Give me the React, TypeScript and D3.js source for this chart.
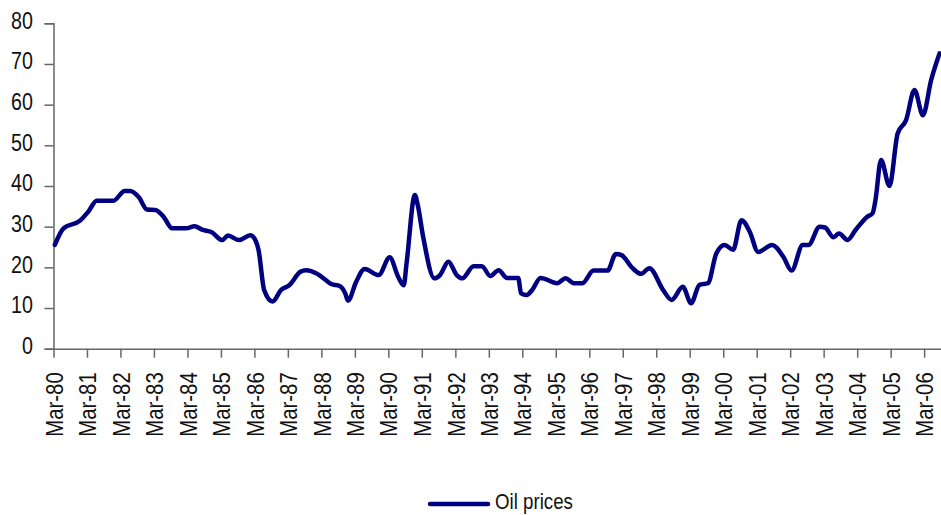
import React, { useRef, useEffect } from "react"
import * as d3 from "d3"

// monthly readings (month of observation) and price, $/bbl
const months = [
  "1980-03", "1980-06", "1980-12", "1981-03", "1981-06", "1981-12", "1982-04", "1982-06",
  "1982-09", "1982-12", "1983-03", "1983-06", "1983-09", "1984-02", "1984-05", "1984-08",
  "1984-11", "1985-03", "1985-05", "1985-09", "1986-01", "1986-03", "1986-04", "1986-06",
  "1986-09", "1986-12", "1987-03", "1987-07", "1987-09", "1988-01", "1988-04", "1988-06",
  "1988-09", "1988-11", "1988-12", "1989-03", "1989-06", "1989-11", "1990-03", "1990-06",
  "1990-08", "1990-09", "1990-12", "1991-01", "1991-03", "1991-07", "1991-09", "1991-12",
  "1992-03", "1992-05", "1992-09", "1992-12", "1993-03", "1993-06", "1993-09", "1994-01",
  "1994-02", "1994-04", "1994-06", "1994-09", "1995-03", "1995-06", "1995-09", "1995-12",
  "1996-04", "1996-09", "1996-12", "1997-02", "1997-06", "1997-09", "1997-12", "1998-05",
  "1998-08", "1998-12", "1999-03", "1999-06", "1999-09", "1999-12", "2000-03", "2000-06",
  "2000-09", "2000-12", "2001-03", "2001-08", "2001-12", "2002-03", "2002-07", "2002-09",
  "2003-01", "2003-03", "2003-06", "2003-08", "2003-11", "2004-02", "2004-06", "2004-08",
  "2004-09", "2004-11", "2005-02", "2005-05", "2005-08", "2005-11", "2006-02", "2006-05",
  "2006-08"
]

const prices = [
  25.5, 29.5, 31.5, 33.7, 36.4, 36.4, 38.8, 38.8,
  37.3, 34.2, 34.1, 32.4, 29.6, 29.6, 30.1, 29.2,
  28.7, 26.7, 27.8, 26.7, 27.9, 26.5, 24.2, 14.4,
  11.6, 14.4, 15.6, 18.9, 19.3, 18.4, 16.9, 15.9,
  15.4, 13.6, 11.8, 16.5, 19.6, 18.1, 22.5, 17.7,
  15.6, 21.0, 37.8, 35.3, 27.5, 17.3, 18.1, 21.4,
  18.1, 17.3, 20.3, 20.3, 17.9, 19.3, 17.4, 17.4,
  13.6, 13.2, 14.4, 17.4, 16.1, 17.3, 16.1, 16.1,
  19.2, 19.2, 23.3, 23.0, 19.8, 18.4, 19.8, 14.4,
  12.0, 15.2, 11.2, 15.7, 16.1, 23.4, 25.5, 24.3,
  31.6, 28.7, 23.8, 25.5, 22.6, 19.2, 25.5, 25.5,
  30.0, 29.8, 27.4, 28.3, 26.7, 29.3, 32.4, 33.3,
  36.5, 46.4, 40.0, 52.9, 56.2, 63.6, 57.4, 66.0,
  72.6
]

const yTicks = [0, 10, 20, 30, 40, 50, 60, 70, 80]
const seriesName = "Oil prices"

const W = 941, H = 515
const FONT = "'Liberation Sans', Arial, sans-serif"
const SQUEEZE = 0.82 // condensed look of the original face

const App = () => {
  const element = useRef<SVGSVGElement>(null)

  useEffect(() => {
    const svg = d3.select(element.current)
    svg.selectAll("*").remove()

    const parse = d3.timeParse("%Y-%m")
    const data = months.map((m, i) => {
      const d = parse(m) as Date
      return { date: new Date(d.getFullYear(), d.getMonth(), 16), value: prices[i] }
    })

    const x = d3.scaleTime()
      .domain([new Date(1980, 2, 1), new Date(2006, 8, 1)])
      .range([53.5, 941])

    const y = d3.scaleLinear()
      .domain([0, 80])
      .range([348.7, 23.3])

    const axisColor = "#666"

    // y axis
    const gy = svg.append("g").attr("transform", "translate(53.5,0)")
    gy.call(d3.axisLeft(y).tickValues(yTicks).tickSize(9).tickPadding(12))
    gy.select(".domain").attr("stroke", axisColor).attr("stroke-width", 1.5)
    gy.selectAll(".tick line").attr("stroke", axisColor).attr("stroke-width", 1.5)
    gy.selectAll(".tick text")
      .attr("font-family", FONT)
      .attr("font-size", 24)
      .attr("fill", "#111")
      .attr("x", 0)
      .attr("dy", "0.2em")
      .attr("transform", "translate(-20.5,0) scale(" + SQUEEZE + ",1)")

    // x axis, a tick every March
    const marchTicks = d3.timeMonth.range(new Date(1980, 2, 1), new Date(2006, 8, 1))
      .filter(d => d.getMonth() === 2)

    const gx = svg.append("g").attr("transform", "translate(0," + y(0) + ")")
    gx.call(
      d3.axisBottom(x)
        .tickValues(marchTicks)
        .tickSize(9)
        .tickSizeOuter(0)
        .tickFormat(d3.timeFormat("%b-%y") as any)
    )
    gx.select(".domain").attr("stroke", axisColor).attr("stroke-width", 1.5)
    gx.selectAll(".tick line").attr("stroke", axisColor).attr("stroke-width", 1.5)
    gx.selectAll(".tick text")
      .attr("font-family", FONT)
      .attr("font-size", 24)
      .attr("fill", "#111")
      .attr("transform", "rotate(-90) scale(0.85,1)")
      .attr("text-anchor", "end")
      .attr("x", -23.5 / 0.85)
      .attr("y", 0)
      .attr("dy", "0.36em")

    // price line
    const line = d3.line<{ date: Date, value: number }>()
      .x(d => x(d.date))
      .y(d => y(d.value))
      .curve(d3.curveMonotoneX)

    svg.append("path")
      .datum(data)
      .attr("d", line)
      .attr("fill", "none")
      .attr("stroke", "#000080")
      .attr("stroke-width", 4.5)
      .attr("stroke-linejoin", "round")
      .attr("stroke-linecap", "round")

    // legend
    const lg = svg.append("g").attr("transform", "translate(430,504)")
    lg.append("line")
      .attr("x1", 0).attr("x2", 58)
      .attr("stroke", "#000080")
      .attr("stroke-width", 4.5)
      .attr("stroke-linecap", "round")
    lg.append("text")
      .attr("x", 0)
      .attr("y", 0)
      .attr("transform", "translate(65,4.5) scale(0.85,1)")
      .attr("font-family", FONT)
      .attr("font-size", 22)
      .attr("fill", "#111")
      .text(seriesName)
  }, [])

  return (
    <svg
      ref={element}
      width={W}
      height={H}
      style={{ position: "absolute", left: 0, top: 0, background: "#fff" }}
    />
  )
}

export default App
